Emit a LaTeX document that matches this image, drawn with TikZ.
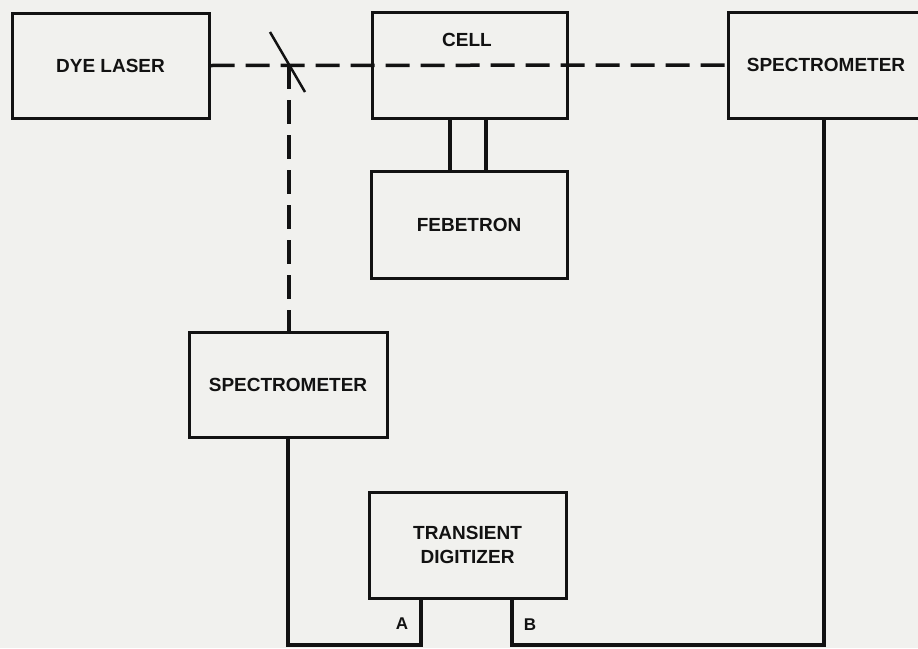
\documentclass[tikz,border=0pt]{standalone}
\usepackage{fontspec}
\setmainfont{Liberation Sans}
\definecolor{paper}{RGB}{241,241,238}
\definecolor{ink}{RGB}{18,18,18}
\begin{document}
\begin{tikzpicture}[x=1pt,y=-1pt,
  box/.style={draw=ink, line width=3pt, rectangle, inner sep=0pt,
    font=\bfseries\fontsize{19}{24}\selectfont, align=center, text=ink},
  lbl/.style={font=\bfseries\fontsize{19}{24}\selectfont, text=ink, inner sep=0pt},
  tag/.style={font=\bfseries\fontsize{17}{20}\selectfont, text=ink, inner sep=0pt},
  wire/.style={draw=ink, line width=4pt},
  beam/.style={draw=ink, line width=3.5pt, dash pattern=on 24pt off 11pt},
]
\fill[paper] (0,0) rectangle (918,648);
\useasboundingbox (0,0) rectangle (918,648);
\clip (0,0) rectangle (918,648);

\node[box, minimum width=197pt, minimum height=105pt] (dye) at (110.5,65.5) {DYE LASER};
\node[box, minimum width=195pt, minimum height=106pt] (cell) at (469.5,65) {};
\node[lbl] (celltxt) at (467,40) {CELL};
\node[box, minimum width=196pt, minimum height=106pt] (spec1) at (826,65) {SPECTROMETER};
\node[box, minimum width=196pt, minimum height=107pt] (feb) at (469,224.5) {FEBETRON};
\node[box, minimum width=198pt, minimum height=105pt] (spec2) at (288,384.5) {SPECTROMETER};
\node[box, minimum width=197pt, minimum height=106pt] (dig) at (467.5,545) {TRANSIENT\\DIGITIZER};

% laser beam and beam splitter
\coordinate (m) at (289,65);
\draw[beam] (dye.east) -- (spec1.west);
\draw[beam] (m) -- (m |- spec2.north);
\draw[draw=ink, line width=2.5pt] (m) ++(-19,-33) -- ++(35,60);

% cell - febetron
\draw[wire] ([xshift=-19.5pt]cell.south) -- ([xshift=-19.5pt]cell.south |- feb.north);
\draw[wire] ([xshift=16.5pt]cell.south) -- ([xshift=16.5pt]cell.south |- feb.north);

% signal lines
\coordinate (bot) at (0,645);
\draw[wire] (spec2.south) -- (spec2.south |- bot) -| ([xshift=-46.5pt]dig.south);
\draw[wire] ([xshift=44.5pt]dig.south) -- ([xshift=44.5pt]dig.south |- bot) -| ([xshift=-2pt]spec1.south);

\node[tag] (a) at (402,624) {A};
\node[tag] (b) at (530,625) {B};
\end{tikzpicture}
\end{document}
